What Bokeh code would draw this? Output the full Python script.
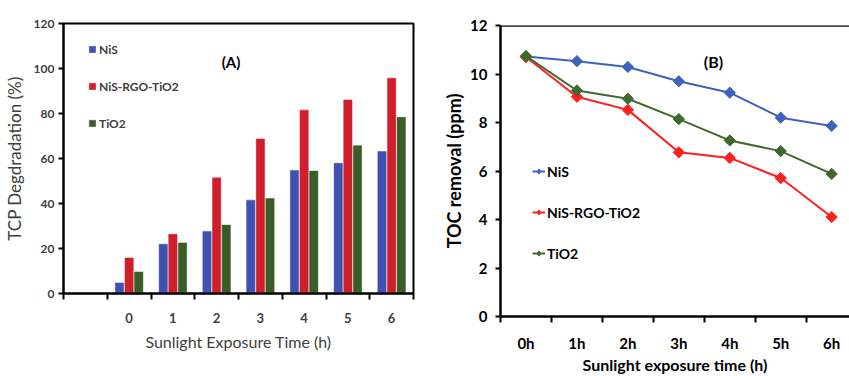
import numpy as np
from bokeh.plotting import figure
from bokeh.models import Range1d, FixedTicker, Span, Legend, LegendItem, Label
from bokeh.layouts import row, column
from bokeh.embed import file_html
from bokeh.resources import INLINE

# ---------------- Chart (A) data ----------------
times_a = ["0", "1", "2", "3", "4", "5", "6"]
series_a = ["NiS", "NiS-RGO-TiO2", "TiO2"]
nis_a = [4.7, 21.9, 27.6, 41.5, 54.7, 57.9, 63.1]
rgo_a = [15.8, 26.3, 51.4, 68.7, 81.5, 86.0, 95.7]
tio2_a = [9.6, 22.5, 30.4, 42.2, 54.4, 65.7, 78.3]
yticks_a = [0, 20, 40, 60, 80, 100, 120]

# ---------------- Chart (B) data ----------------
times_b = ["0h", "1h", "2h", "3h", "4h", "5h", "6h"]
series_b = ["NiS", "NiS-RGO-TiO2", "TiO2"]
nis_b = [10.72, 10.53, 10.29, 9.70, 9.23, 8.20, 7.86]
rgo_b = [10.70, 9.06, 8.52, 6.77, 6.54, 5.71, 4.10]
tio2_b = [10.74, 9.32, 8.98, 8.14, 7.26, 6.82, 5.88]
yticks_b = [0, 2, 4, 6, 8, 10, 12]

FONT = "Lato"
BOTTOM_A = 62
BOTTOM_B = 59

# ================= Figure A =================
colors_a = ["#3F52B2", "#D01F2C", "#3A5C27"]
n_a = len(times_a)
centers_a = np.arange(n_a) + 1.5  # first slot is empty
p1 = figure(width=425, height=293 + BOTTOM_A, x_range=Range1d(0, n_a + 1), y_range=Range1d(0, 120),
            output_backend="svg", toolbar_location=None,
            min_border_left=62, min_border_right=12, min_border_top=23, min_border_bottom=BOTTOM_A)
p1.xgrid.visible = False
p1.ygrid.visible = False
p1.outline_line_color = "black"
p1.outline_line_width = 2

offsets = [-0.22, 0.0, 0.22]
items_a = []
for vals, col, off, name in zip([nis_a, rgo_a, tio2_a], colors_a, offsets, series_a):
    r = p1.vbar(x=centers_a + off, top=vals, width=0.19, bottom=0,
                fill_color=col, line_color=col, line_width=0.5)
    items_a.append(LegendItem(label=name, renderers=[r]))

xa = p1.xaxis[0]
xa.ticker = FixedTicker(ticks=list(centers_a), minor_ticks=list(range(0, n_a + 2)))
xa.major_label_overrides = {float(c): t for c, t in zip(centers_a, times_a)}
xa.major_tick_out = 0
xa.major_tick_in = 0
xa.minor_tick_out = 6
xa.minor_tick_in = 0
xa.minor_tick_line_width = 2
xa.minor_tick_line_color = "black"
xa.axis_line_width = 2
xa.major_label_standoff = 13
xa.major_label_text_font = FONT
xa.major_label_text_font_style = "bold"
xa.major_label_text_font_size = "13px"
xa.major_label_text_color = "#404040"
xa.axis_label = "Sunlight Exposure Time (h)"
xa.axis_label_text_font = FONT
xa.axis_label_text_font_style = "normal"
xa.axis_label_text_font_size = "16px"
xa.axis_label_text_color = "#404040"
xa.axis_label_standoff = 6

ya = p1.yaxis[0]
ya.ticker = FixedTicker(ticks=yticks_a, minor_ticks=[])
ya.major_tick_out = 5
ya.major_tick_in = 0
ya.major_tick_line_width = 2
ya.axis_line_width = 2
ya.major_label_standoff = 4
ya.major_label_text_font = FONT
ya.major_label_text_font_style = "bold"
ya.major_label_text_font_size = "12px"
ya.major_label_text_color = "#404040"
ya.axis_label = "TCP Degdradation (%)"
ya.axis_label_text_font = FONT
ya.axis_label_text_font_style = "normal"
ya.axis_label_text_font_size = "17px"
ya.axis_label_text_color = "#404040"
ya.axis_label_standoff = 6

leg_a = Legend(items=items_a, location=(25, 162), orientation="vertical",
               glyph_width=8, glyph_height=8, label_height=16, spacing=21,
               label_standoff=3, padding=0, margin=0,
               background_fill_alpha=0, border_line_color=None,
               label_text_font=FONT, label_text_font_style="bold",
               label_text_font_size="12px", label_text_color="#404040")
p1.add_layout(leg_a)
p1.add_layout(Label(x=3.83, y=102.7, text="(A)", text_align="center", text_baseline="middle",
                    text_font=FONT, text_font_style="bold", text_font_size="15px",
                    text_color="black"))

# ================= Figure B =================
colors_b = ["#3F62BE", "#FF1F1F", "#3E6A2E"]
n_b = len(times_b)
centers_b = np.arange(n_b) + 0.5
p2 = figure(width=424, height=317 + BOTTOM_B, x_range=Range1d(0, 6.85), y_range=Range1d(0, 12),
            output_backend="svg", toolbar_location=None,
            min_border_left=75, min_border_right=0, min_border_top=25, min_border_bottom=BOTTOM_B)
p2.xgrid.visible = False
p2.ygrid.visible = False
p2.outline_line_color = None
p2.add_layout(Span(location=12, dimension="width", line_color="black", line_width=2.5))

items_b = []
for vals, col, name in zip([nis_b, rgo_b, tio2_b], colors_b, series_b):
    ln = p2.line(x=centers_b, y=vals, line_color=col, line_width=2)
    dm = p2.scatter(x=centers_b, y=vals, marker="diamond", size=8,
                    fill_color=col, line_color=col)
    p2.scatter(x=centers_b, y=vals, marker="square", size=8, angle=np.pi / 4,
               fill_color=col, line_color=col)
    items_b.append(LegendItem(label=name, renderers=[ln, dm]))

xb = p2.xaxis[0]
xb.ticker = FixedTicker(ticks=list(centers_b), minor_ticks=list(range(0, n_b + 1)))
xb.major_label_overrides = {float(c): t for c, t in zip(centers_b, times_b)}
xb.major_tick_out = 0
xb.major_tick_in = 0
xb.minor_tick_out = 6
xb.minor_tick_in = 0
xb.minor_tick_line_width = 2
xb.minor_tick_line_color = "black"
xb.axis_line_width = 2.5
xb.major_label_standoff = 11
xb.major_label_text_font = FONT
xb.major_label_text_font_style = "bold"
xb.major_label_text_font_size = "15px"
xb.major_label_text_color = "black"
xb.axis_label = "Sunlight exposure time (h)"
xb.axis_label_text_font = FONT
xb.axis_label_text_font_style = "bold"
xb.axis_label_text_font_size = "16px"
xb.axis_label_text_color = "black"
xb.axis_label_standoff = 0

yb = p2.yaxis[0]
yb.ticker = FixedTicker(ticks=yticks_b, minor_ticks=[])
yb.major_tick_out = 5
yb.major_tick_in = 0
yb.major_tick_line_width = 2
yb.axis_line_width = 2.5
yb.major_label_standoff = 8
yb.major_label_text_font = FONT
yb.major_label_text_font_style = "bold"
yb.major_label_text_font_size = "15px"
yb.major_label_text_color = "black"
yb.axis_label = "TOC removal (ppm)"
yb.axis_label_text_font = FONT
yb.axis_label_text_font_style = "bold"
yb.axis_label_text_font_size = "18px"
yb.axis_label_text_color = "black"
yb.axis_label_standoff = 2

leg_b = Legend(items=items_b, location=(32, 53), orientation="vertical",
               glyph_width=13, glyph_height=20, label_height=20, spacing=21,
               label_standoff=2, padding=0, margin=0,
               background_fill_alpha=0, border_line_color=None,
               label_text_font=FONT, label_text_font_style="bold",
               label_text_font_size="14px", label_text_color="black")
p2.add_layout(leg_b)
p2.add_layout(Label(x=4.18, y=10.53, text="(B)", text_align="center", text_baseline="middle",
                    text_font=FONT, text_font_style="bold", text_font_size="16px",
                    text_color="black"))

layout = row(column(p1), column(p2))
open("out.html", "w").write(file_html(layout, INLINE))
